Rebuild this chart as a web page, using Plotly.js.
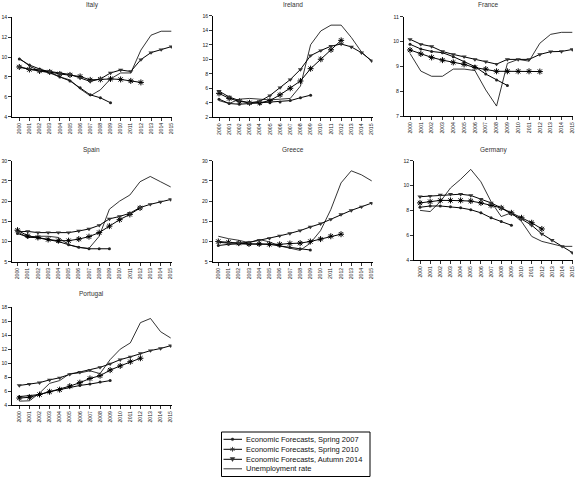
<!DOCTYPE html>
<html><head><meta charset="utf-8">
<script src="https://cdn.plot.ly/plotly-3.0.1.min.js"></script>
<style>html,body{margin:0;padding:0;background:#fff}#c{width:580px;height:478px}</style>
</head><body><div id="c"></div>
<script>
const years = [2000,2001,2002,2003,2004,2005,2006,2007,2008,2009,2010,2011,2012,2013,2014,2015];
const yearLabels = ['2000','2001','2002','2003','2004','2005','2006','2007','2008','2009','2010','2011','2012','2013','2014','2015'];
const seriesNames = ['Economic Forecasts, Spring 2007','Economic Forecasts, Spring 2010','Economic Forecasts, Autumn 2014','Unemployment rate'];
const countries = ['Italy','Ireland','France','Spain','Greece','Germany','Portugal'];

const italyS07 = [9.8,9.2,8.8,8.5,8.0,7.6,6.9,6.2,5.9,5.4];
const italyS10 = [9.0,8.75,8.6,8.5,8.3,8.2,8.05,7.7,7.75,7.8,7.75,7.6,7.45];
const italyA14 = [9.0,8.8,8.7,8.55,8.35,8.25,7.9,7.55,7.8,8.4,8.7,8.55,9.75,10.45,10.75,11.05];
const italyUn  = [9.9,9.1,8.6,8.4,8.0,7.7,6.8,6.1,6.7,7.8,8.4,8.4,10.7,12.2,12.6,12.6];

const irelandS07 = [4.5,3.9,3.8,3.9,3.9,4.0,4.1,4.3,4.7,5.05];
const irelandS10 = [5.3,4.6,4.2,4.0,4.0,4.3,5.1,6.0,7.0,8.7,10.0,11.3,12.6];
const irelandA14 = [5.6,4.8,4.3,4.0,4.2,5.0,6.1,7.2,8.6,10.5,11.2,11.8,12.1,11.7,10.9,9.8];
const irelandUn  = [4.3,3.9,4.5,4.6,4.5,4.4,4.5,4.6,6.3,12.0,13.9,14.7,14.7,13.0,11.0,9.7];

const franceS07 = [9.89,9.7,9.6,9.55,9.39,9.19,8.99,8.69,8.45,8.23];
const franceS10 = [9.66,9.5,9.36,9.25,9.16,9.08,8.95,8.89,8.8,8.8,8.8,8.8,8.79];
const franceA14 = [10.09,9.89,9.8,9.6,9.48,9.39,9.28,9.19,9.09,9.28,9.28,9.28,9.48,9.59,9.6,9.68];
const franceUn  = [9.52,8.81,8.6,8.6,8.89,8.89,8.83,8.05,7.4,9.12,9.28,9.21,9.93,10.29,10.37,10.37];

const spainS07 = [12.0,11.1,10.9,10.5,10.0,9.2,8.6,8.2,8.2,8.2];
const spainS10 = [12.8,11.4,11.0,10.5,10.2,10.2,10.6,11.2,12.2,13.8,15.4,16.7,18.3];
const spainA14 = [12.4,12.5,12.2,12.2,12.2,12.2,12.6,13.1,14.0,15.6,16.2,17.0,18.4,19.2,19.8,20.4];
const spainUn  = [12.4,11.0,11.3,11.3,11.0,9.2,8.5,8.3,11.3,18.0,20.0,21.5,24.8,26.1,24.8,23.5];

const greeceS07 = [9.0,9.3,9.4,9.4,9.4,9.3,8.9,8.5,8.2,7.9];
const greeceS10 = [10.0,9.8,9.6,9.4,9.4,9.3,9.3,9.5,9.6,10.0,10.6,11.3,11.8];
const greeceA14 = [9.8,9.6,9.6,9.8,10.3,10.8,11.4,12.0,12.7,13.6,14.4,15.5,16.7,17.7,18.6,19.5];
const greeceUn  = [11.3,10.7,10.3,9.7,10.5,9.9,8.9,8.3,7.8,9.6,12.7,17.9,24.5,27.5,26.5,25.0];

const germanyS07 = [8.25,8.35,8.35,8.3,8.2,8.05,7.8,7.4,7.1,6.8];
const germanyS10 = [8.6,8.7,8.8,8.8,8.8,8.75,8.6,8.4,8.2,7.8,7.4,7.0,6.5];
const germanyA14 = [9.1,9.15,9.25,9.3,9.3,9.2,8.9,8.6,8.2,7.7,7.3,6.8,6.1,5.6,5.1,4.6];
const germanyUn  = [8.0,7.9,8.7,9.8,10.5,11.3,10.3,8.7,7.5,7.8,7.1,5.9,5.5,5.3,5.1,5.1];

const portugalS07 = [5.2,5.3,5.5,5.9,6.2,6.6,6.8,7.0,7.3,7.5];
const portugalS10 = [5.0,5.1,5.5,5.9,6.2,6.7,7.2,7.8,8.2,9.0,9.6,10.2,10.7];
const portugalA14 = [6.8,7.0,7.2,7.6,7.9,8.4,8.7,9.0,9.4,9.9,10.5,10.9,11.4,11.8,12.1,12.5];
const portugalUn  = [4.55,4.6,5.7,7.1,7.5,8.5,8.6,8.9,8.5,10.5,12.0,12.9,15.8,16.4,14.5,13.6];

const W = 580, H = 478;
const panels = [
  {s07:italyS07, s10:italyS10, a14:italyA14, un:italyUn, yr:[4,14], dt:2, x0:12.3, x2000:19.3, x2015:171.3, x1:172, top:17.3, bot:116.7, ty:4.5},
  {s07:irelandS07, s10:irelandS10, a14:irelandA14, un:irelandUn, yr:[2,16], dt:2, x0:213.3, x2000:219, x2015:371.7, x1:372.5, top:15.7, bot:117.3, ty:4.5},
  {s07:franceS07, s10:franceS10, a14:franceA14, un:franceUn, yr:[7,11], dt:1, x0:404, x2000:410, x2015:572.3, x1:573, top:16.7, bot:116, ty:4.5},
  {s07:spainS07, s10:spainS10, a14:spainA14, un:spainUn, yr:[5,30], dt:5, x0:12.3, x2000:17.5, x2015:170.7, x1:171.5, top:160.7, bot:261.7, ty:149.5},
  {s07:greeceS07, s10:greeceS10, a14:greeceA14, un:greeceUn, yr:[5,30], dt:5, x0:212.7, x2000:218.3, x2015:371.7, x1:372.5, top:160.7, bot:261.7, ty:149.5},
  {s07:germanyS07, s10:germanyS10, a14:germanyA14, un:germanyUn, yr:[4,12], dt:2, x0:414.3, x2000:420, x2015:572.3, x1:573, top:160.7, bot:260, ty:149.5},
  {s07:portugalS07, s10:portugalS10, a14:portugalA14, un:portugalUn, yr:[4,18], dt:2, x0:12.3, x2000:19.3, x2015:170.7, x1:171.5, top:307.3, bot:405, ty:294}
];

const traces = [];
const layout = {
  width: W, height: H, margin:{l:0,r:0,t:0,b:0}, showlegend:false,
  paper_bgcolor:'#fff', plot_bgcolor:'rgba(0,0,0,0)',
  font:{family:'Liberation Sans, Arial, sans-serif', color:'#222', size:6},
  annotations: [], shapes: []
};
const tickFont = {family:'Liberation Sans, Arial, sans-serif', size:5.2, color:'#222'};

panels.forEach((p, i) => {
  const n = i + 1;
  const xa = 'x' + (n === 1 ? '' : n), ya = 'y' + (n === 1 ? '' : n);
  const ppy = (p.x2015 - p.x2000) / 15;
  const xr = [2000 - (p.x2000 - p.x0) / ppy, 2015 + (p.x1 - p.x2015) / ppy];
  layout['xaxis' + (n === 1 ? '' : n)] = {
    domain:[p.x0 / W, p.x1 / W], range:xr, anchor:ya,
    tickmode:'array', tickvals:years, ticktext:yearLabels, tickangle:-90,
    tickfont:tickFont, ticks:'outside', ticklen:3, tickwidth:0.8, tickcolor:'#000',
    showline:true, linecolor:'#000', linewidth:1, showgrid:false, zeroline:false, fixedrange:true
  };
  layout['yaxis' + (n === 1 ? '' : n)] = {
    domain:[1 - p.bot / H, 1 - p.top / H], range:p.yr, anchor:xa,
    tickmode:'linear', tick0:p.yr[0], dtick:p.dt,
    tickfont:tickFont, ticks:'outside', ticklen:3, tickwidth:0.8, tickcolor:'#000',
    showline:true, linecolor:'#000', linewidth:1, showgrid:false, zeroline:false, fixedrange:true
  };
  const common = {xaxis:xa, yaxis:ya, type:'scatter', hoverinfo:'skip'};
  traces.push(Object.assign({}, common, {x:years.slice(0, p.un.length), y:p.un, name:seriesNames[3], mode:'lines', line:{color:'#000', width:0.8}}));
  traces.push(Object.assign({}, common, {x:years.slice(0, p.s07.length), y:p.s07, name:seriesNames[0], mode:'lines+markers', line:{color:'#000', width:1}, marker:{symbol:'circle', size:3, color:'#222'}}));
  traces.push(Object.assign({}, common, {x:years.slice(0, p.s10.length), y:p.s10, name:seriesNames[1], mode:'lines+markers', line:{color:'#000', width:1}, marker:{symbol:'asterisk-open', size:5, line:{color:'#333', width:1}}}));
  traces.push(Object.assign({}, common, {x:years.slice(0, p.a14.length), y:p.a14, name:seriesNames[2], mode:'lines+markers', line:{color:'#000', width:1}, marker:{symbol:'triangle-down', size:4.5, color:'#333'}}));
  layout.annotations.push({
    xref:'paper', yref:'paper', x:(p.x0 + p.x1) / 2 / W, y:1 - p.ty / H, xanchor:'center', yanchor:'middle',
    text:countries[i], showarrow:false, font:{family:'Liberation Sans, Arial, sans-serif', size:6.5, color:'#333'}
  });
});

// Legend box (key), drawn in paper coordinates
const px = v => v / W, py = v => 1 - v / H;
layout.shapes.push({type:'rect', xref:'paper', yref:'paper', x0:px(221.5), x1:px(370), y0:py(432), y1:py(476.5), line:{color:'#000', width:1}, fillcolor:'rgba(0,0,0,0)'});
const rows = [439.3, 449.3, 459.3, 468.8];
const lx0 = 223.5, lx1 = 242, mx = 232.5;
rows.forEach((ry, k) => {
  layout.shapes.push({type:'line', xref:'paper', yref:'paper', x0:px(lx0), x1:px(lx1), y0:py(ry), y1:py(ry), line:{color:'#000', width:k === 3 ? 0.8 : 1}});
  layout.annotations.push({xref:'paper', yref:'paper', x:px(244), y:py(ry), xanchor:'left', yanchor:'middle', showarrow:false,
    text:seriesNames[k], font:{family:'Liberation Sans, Arial, sans-serif', size:7.5, color:'#111'}});
});
// legend marker glyphs
layout.shapes.push({type:'circle', xref:'paper', yref:'paper', x0:px(mx - 1.3), x1:px(mx + 1.3), y0:py(rows[0] - 1.3), y1:py(rows[0] + 1.3), fillcolor:'#222', line:{color:'#222', width:0.5}});
const ay = rows[1];
[[0, -2.4, 0, 2.4], [-2.1, -1.2, 2.1, 1.2], [-2.1, 1.2, 2.1, -1.2]].forEach(s => {
  layout.shapes.push({type:'line', xref:'paper', yref:'paper', x0:px(mx + s[0]), x1:px(mx + s[2]), y0:py(ay + s[1]), y1:py(ay + s[3]), line:{color:'#333', width:0.9}});
});
const ty = rows[2];
layout.shapes.push({type:'path', xref:'paper', yref:'paper',
  path:'M ' + px(mx - 2.3) + ',' + py(ty - 1.8) + ' L ' + px(mx + 2.3) + ',' + py(ty - 1.8) + ' L ' + px(mx) + ',' + py(ty + 2.2) + ' Z',
  fillcolor:'#333', line:{color:'#333', width:0.5}});

Plotly.newPlot('c', traces, layout, {staticPlot:true, displayModeBar:false});
</script>
</body></html>
